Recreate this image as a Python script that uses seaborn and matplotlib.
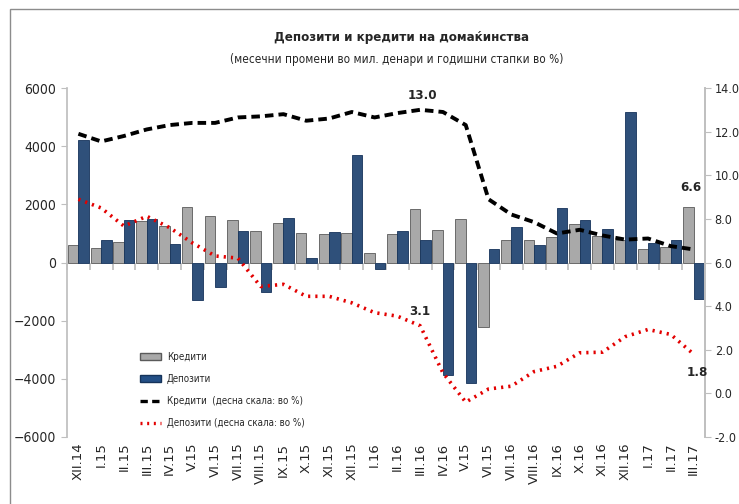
import numpy as np
import pandas as pd
import matplotlib
matplotlib.use("Agg")
import matplotlib.pyplot as plt
from matplotlib import font_manager
from matplotlib.patches import Rectangle, Patch
from matplotlib.lines import Line2D
import seaborn as sns

# ── data ──
# note: the source labels V.16 / VI.16 as "V.15" / "VI.15", kept as printed
MONTHS = ["XII.14", "I.15", "II.15", "III.15", "IV.15", "V.15", "VI.15",
          "VII.15", "VIII.15", "IX.15", "X.15", "XI.15", "XII.15",
          "I.16", "II.16", "III.16", "IV.16", "V.15", "VI.15", "VII.16",
          "VIII.16", "IX.16", "X.16", "XI.16", "XII.16", "I.17", "II.17", "III.17"]

# monthly changes, mil. denars (left scale)
credits_chg = [600, 500, 700, 1420, 1250, 1900, 1590, 1450, 1075, 1360, 1030, 980, 1010,
               340, 990, 1840, 1130, 1480, -2220, 770, 790, 880, 1340, 905, 770, 450, 550, 1900]
deposits_chg = [4200, 760, 1450, 1500, 620, -1300, -830, 1100, -1000, 1530, 140, 1040, 3680,
                -230, 1100, 770, -3880, -4130, 450, 1215, 600, 1880, 1455, 1160, 5180, 665, 790, -1270]

# annual growth, % (right scale)
credits_yoy = [11.9, 11.55, 11.8, 12.1, 12.3, 12.4, 12.4, 12.65, 12.7, 12.8, 12.5, 12.6, 12.9,
               12.65, 12.85, 13.0, 12.9, 12.3, 8.9, 8.2, 7.85, 7.33, 7.5, 7.24, 7.05, 7.1, 6.75, 6.6]
deposits_yoy = [8.9, 8.5, 7.67, 8.12, 7.6, 6.9, 6.3, 6.2, 4.9, 5.0, 4.45, 4.45, 4.15,
                3.7, 3.54, 3.1, 0.94, -0.4, 0.2, 0.33, 1.0, 1.24, 1.86, 1.89, 2.6, 2.93, 2.7, 1.8]

SERIES = ["Кредити", "Депозити"]
LINE_LABELS = ["Кредити  (десна скала: во %)", "Депозити (десна скала: во %)"]

TITLE = "Депозити и кредити на домаќинства"
SUBTITLE = "(месечни промени во мил. денари и годишни стапки во %)"

GRAY = "#a9a9a9"
BLUE = "#234f86"

names = {f.name for f in font_manager.fontManager.ttflist}
narrow = "Liberation Sans Narrow" if "Liberation Sans Narrow" in names else "DejaVu Sans"

sns.set_theme(style="white")
plt.rcParams["font.family"] = [narrow, "DejaVu Sans"]
plt.rcParams["font.stretch"] = "condensed"

n = len(MONTHS)
pos = list(range(n))
df = pd.DataFrame({
    "pos": pos * 2,
    "series": [SERIES[0]] * n + [SERIES[1]] * n,
    "value": credits_chg + deposits_chg,
})

fig = plt.figure(figsize=(7.39, 5.04), dpi=100)
ax = fig.add_axes([67 / 739, 1 - 437 / 504, (705 - 67) / 739, (437 - 88) / 504])

# months repeat in the labels, so plot on positions and label afterwards
sns.barplot(data=df, x="pos", y="value", hue="series", order=pos,
            hue_order=SERIES, palette=[GRAY, BLUE], width=0.92, gap=0,
            edgecolor="#5a5a5a", linewidth=0.6, legend=False, errorbar=None, ax=ax)
for p in ax.patches[n:]:
    p.set_edgecolor("#15335a")

ax.set_ylim(-6000, 6000)
ax.set_yticks(range(-6000, 6001, 2000))
ax.set_xlim(-0.5, n - 0.5)
ax.set_xticks(pos)
ax.set_xticklabels(MONTHS)
ax.set_xlabel("")
ax.set_ylabel("")
ax.tick_params(axis="x", labelrotation=90, length=0, pad=4, labelsize=9.5)
for t in ax.get_xticklabels():
    t.set_fontfamily("DejaVu Sans")
    t.set_fontstretch("normal")
ax.tick_params(axis="y", left=True, length=4, width=0.8, color="#bfbfbf",
               labelsize=10, pad=4)
for s in ["top", "bottom"]:
    ax.spines[s].set_visible(False)
for s in ["left", "right"]:
    ax.spines[s].set_color("#bfbfbf")

# category axis crossing at zero, ticks between the month groups
zero_ax = ax.secondary_xaxis(0.5)
zero_ax.set_xticks(np.arange(-0.5, n, 1.0))
zero_ax.tick_params(axis="x", direction="out", length=5, color="#bfbfbf",
                    labelbottom=False, labeltop=False, top=False, bottom=True)
zero_ax.spines["bottom"].set_color("#bfbfbf")
zero_ax.spines["top"].set_visible(False)

# right scale lines
ax2 = ax.twinx()
sns.lineplot(x=pos, y=credits_yoy, ax=ax2, color="black", linewidth=2.8,
             linestyle=(0, (2.2, 1.3)), sort=False)
sns.lineplot(x=pos, y=deposits_yoy, ax=ax2, color="#e30000", linewidth=2.6,
             linestyle=(0, (0.6, 1.4)), sort=False)
rticks = np.arange(-2, 14.1, 2)
ax2.set_ylim(-2, 14)
ax2.set_yticks(rticks)
ax2.set_yticklabels([f"{v:.1f}" for v in rticks])
ax2.tick_params(axis="y", right=True, length=4, width=0.8, color="#bfbfbf",
                labelsize=9, pad=3)
for s in ["top", "bottom", "left"]:
    ax2.spines[s].set_visible(False)
ax2.spines["right"].set_color("#bfbfbf")
ax2.set_xlim(-0.5, n - 0.5)

# data labels
lab = dict(fontsize=9.5, fontweight="bold", ha="center", textcoords="offset points")
peak = int(np.argmax(credits_yoy))
ax2.annotate(f"{credits_yoy[peak]:.1f}", (pos[peak], credits_yoy[peak]), xytext=(2, 8), **lab)
ax2.annotate(f"{credits_yoy[-1]:.1f}", (pos[-1], credits_yoy[-1]), xytext=(-2, 42), **lab)
ax2.annotate(f"{deposits_yoy[peak]:.1f}", (pos[peak], deposits_yoy[peak]), xytext=(0, 8), **lab)
ax2.annotate(f"{deposits_yoy[-1]:.1f}", (pos[-1], deposits_yoy[-1]), xytext=(3, -16), **lab)

# legend
handles = [Patch(facecolor=GRAY, edgecolor="#5a5a5a"),
           Patch(facecolor=BLUE, edgecolor="#15335a"),
           Line2D([], [], color="black", linewidth=2.4, linestyle=(0, (2.2, 1.3))),
           Line2D([], [], color="#e30000", linewidth=2.4, linestyle=(0, (0.6, 1.4)))]
ax2.legend(handles, SERIES + LINE_LABELS, loc="lower left",
           bbox_to_anchor=(0.1, 0.0), frameon=False, fontsize=7,
           handlelength=2.2, labelspacing=1.25, handletextpad=0.6)

fig.text(0.543, 1 - 38 / 504, TITLE, ha="center", va="center",
         fontsize=9.5, fontweight="bold")
fig.text(0.537, 1 - 59 / 504, SUBTITLE, ha="center", va="center", fontsize=8.5)

# outer chart frame (cut off at right and bottom in the reference)
fig.patches.append(Rectangle((10 / 739, -0.1), 1.0, 1 - 9 / 504 + 0.1,
                             transform=fig.transFigure, fill=False,
                             edgecolor="#8c8c8c", linewidth=1.0))

fig.savefig("out.png", dpi=100)
